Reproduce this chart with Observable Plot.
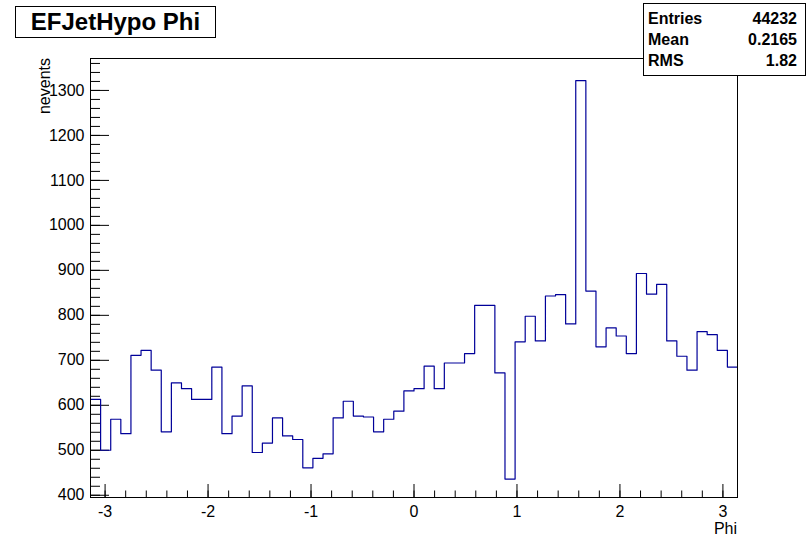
<!DOCTYPE html>
<html>
<head>
<meta charset="utf-8">
<script src="https://cdn.jsdelivr.net/npm/d3@7"></script>
<script src="https://cdn.jsdelivr.net/npm/@observablehq/plot@0.6"></script>
<style>
  html, body { margin: 0; padding: 0; background: #fff; }
  #wrap { position: relative; width: 809px; height: 537px; font-family: "Liberation Sans", Arial, Helvetica, sans-serif; color: #000; overflow: hidden; }
  #title { position: absolute; left: 15px; top: 6px; width: 199px; height: 30px; border: 1px solid #000; background: #fff;
           display: flex; align-items: center; justify-content: center; font-weight: bold; font-size: 24px; line-height: 24px; }
  #stats { position: absolute; left: 643px; top: 3px; width: 161px; height: 67px; border: 1px solid #000; background: #fff;
           font-weight: bold; font-size: 16px; line-height: 21px; padding-top: 4px; box-sizing: content-box; }
  #stats .row { display: flex; justify-content: space-between; padding: 0 8px 0 4px; }
  #ylab { position: absolute; left: 37px; top: 158px; width: 100px; text-align: right; font-size: 16px; line-height: 16px;
          transform-origin: 0 0; transform: rotate(-90deg); }
  #xlab { position: absolute; right: 72px; top: 521px; font-size: 16px; line-height: 16px; }
</style>
</head>
<body>
<div id="wrap">
  <div id="plot"></div>
  <div id="title">EFJetHypo Phi</div>
  <div id="stats"></div>
  <div id="ylab">nevents</div>
  <div id="xlab">Phi</div>
</div>
<script>
// ---- data ----
const binLow = -Math.PI;
const binHigh = Math.PI;
const counts = [
  613, 500, 569, 537, 711, 722, 678, 541, 650, 637,
  613, 613, 685, 537, 576, 643, 495, 516, 572, 532,
  524, 461, 482, 492, 572, 609, 576, 574, 541, 569,
  587, 632, 637, 687, 637, 694, 694, 715, 822, 822,
  672, 436, 741, 798, 743, 843, 846, 781, 1322, 854,
  730, 772, 754, 715, 893, 847, 869, 743, 709, 678,
  764, 757, 722, 685
];
const xMajor = [-3, -2, -1, 0, 1, 2, 3];
const yMajor = [400, 500, 600, 700, 800, 900, 1000, 1100, 1200, 1300];
const xMinor = d3.range(-30, 31, 2).map(d => d / 10);
const yMinor = d3.range(400, 1371, 20);
const yDomain = [395, 1371];
const statLabels = ["Entries", "Mean", "RMS"];
const statValues = ["44232", "0.2165", "1.82"];

// histogram outline points (bin edges)
const nBins = counts.length;
const binW = (binHigh - binLow) / nBins;
const pts = counts.map((c, i) => ({x: binLow + i * binW, y: c}));
pts.push({x: binHigh, y: counts[nBins - 1]});

const xMin = binLow, yMin = yDomain[0];

const chart = Plot.plot({
  width: 809,
  height: 537,
  marginLeft: 90,
  marginRight: 72,
  marginTop: 58,
  marginBottom: 40,
  style: {fontFamily: '"Liberation Sans", Arial, Helvetica, sans-serif', fontSize: "16px", color: "#000", background: "#fff"},
  x: {domain: [binLow, binHigh]},
  y: {domain: yDomain},
  marks: [
    Plot.axisY({ticks: yMajor, tickSize: 0, tickPadding: 6, tickFormat: d => String(d), fontSize: 16, label: null}),
    Plot.axisX({ticks: xMajor, tickSize: 0, tickPadding: 8, tickFormat: d => String(d), fontSize: 16, label: null}),
    // inward ticks
    Plot.ruleY(yMinor, {y: d => d, x1: () => xMin, x2: () => xMin, insetRight: -10, stroke: "#000"}),
    Plot.ruleY(yMajor, {y: d => d, x1: () => xMin, x2: () => xMin, insetRight: -19, stroke: "#000"}),
    Plot.ruleX(xMinor, {x: d => d, y1: () => yMin, y2: () => yMin, insetTop: -6.5, stroke: "#000"}),
    Plot.ruleX(xMajor, {x: d => d, y1: () => yMin, y2: () => yMin, insetTop: -13, stroke: "#000"}),
    Plot.line(pts, {x: "x", y: "y", curve: "step-after", stroke: "#000099", strokeWidth: 1.2}),
    Plot.frame({stroke: "#000"})
  ]
});
document.getElementById("plot").appendChild(chart);

const stats = document.getElementById("stats");
statLabels.forEach((l, i) => {
  const r = document.createElement("div");
  r.className = "row";
  r.innerHTML = `<span>${l}</span><span>${statValues[i]}</span>`;
  stats.appendChild(r);
});
</script>
</body>
</html>
